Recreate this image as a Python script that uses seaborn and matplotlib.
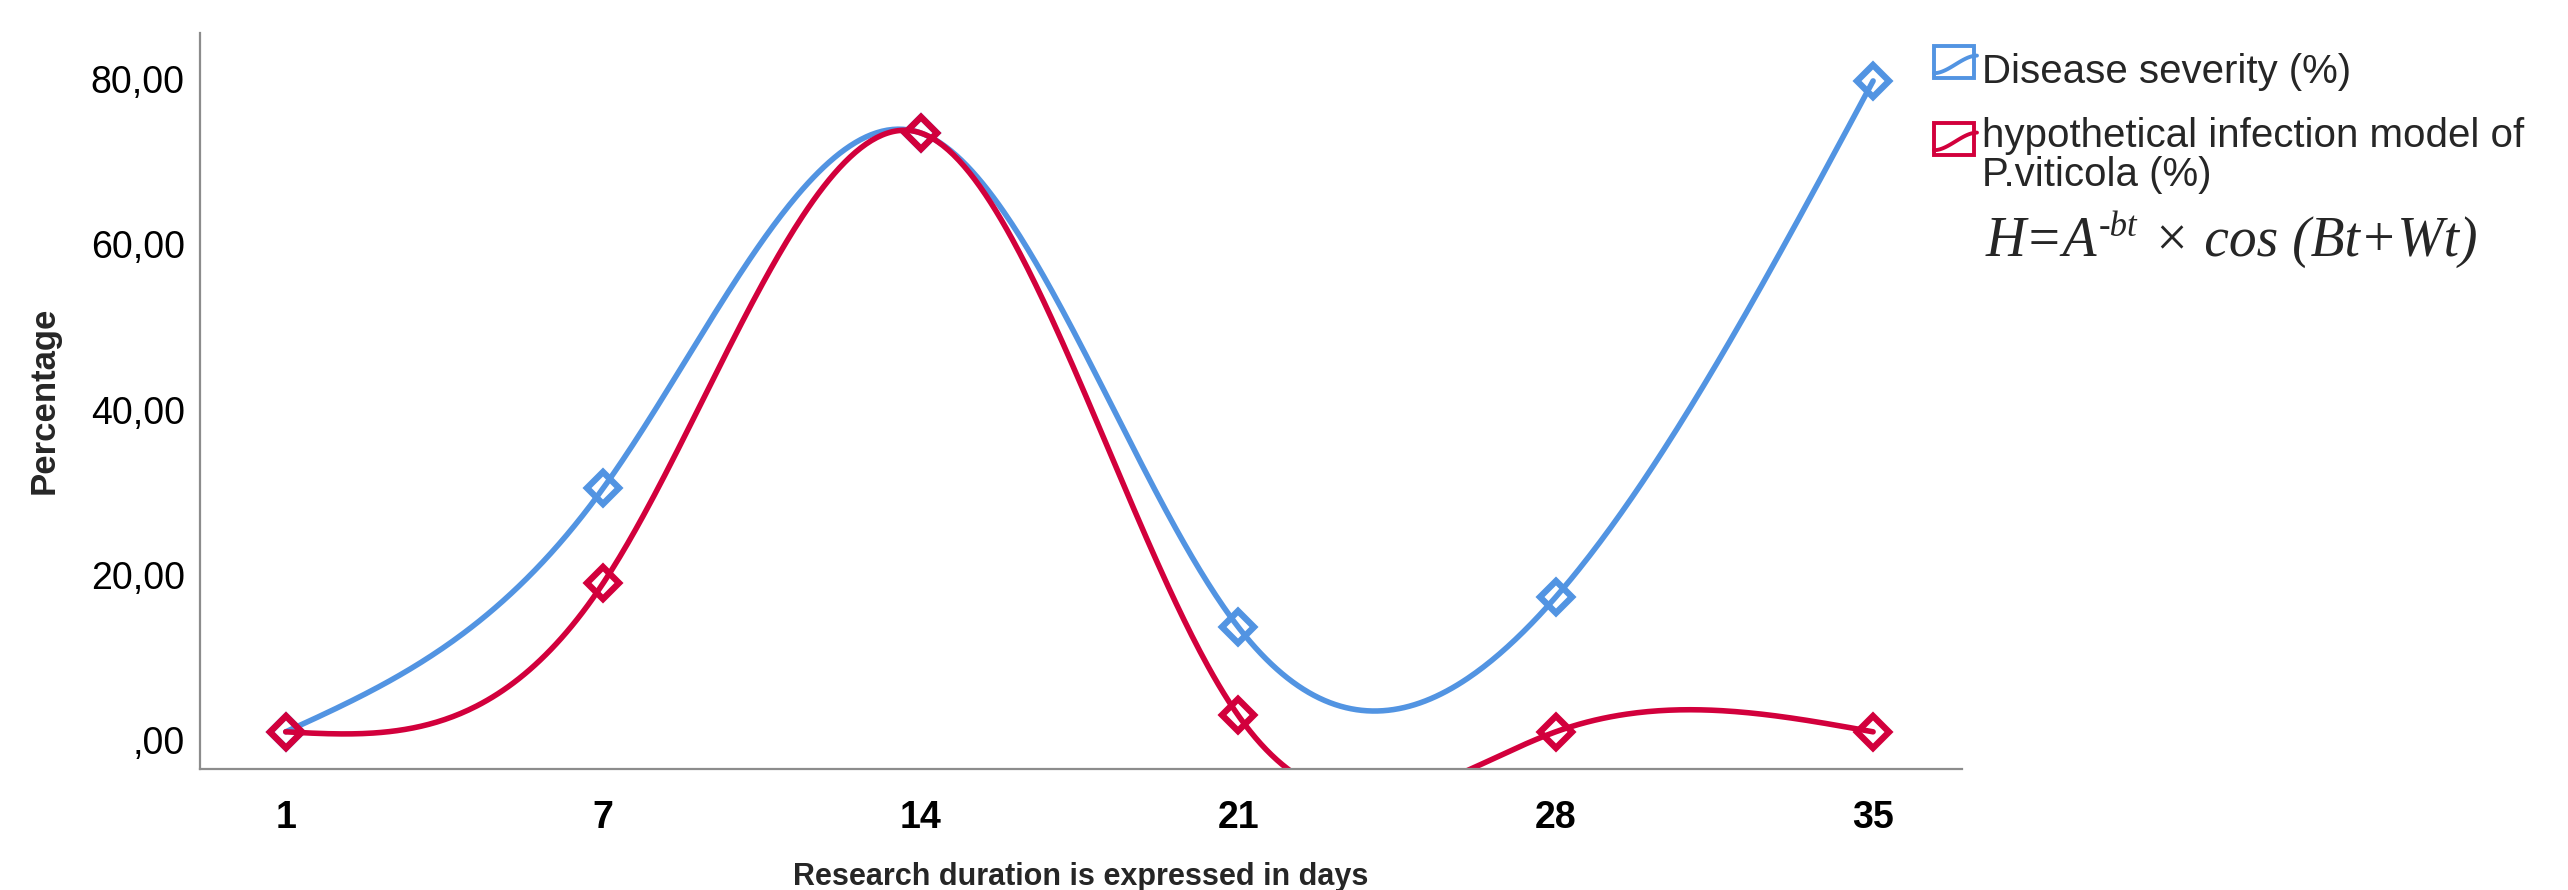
import numpy as np
import pandas as pd
import matplotlib
matplotlib.use("Agg")
import matplotlib.pyplot as plt
import seaborn as sns
from matplotlib.patches import Rectangle
from matplotlib.lines import Line2D

# ---- data ----
days = ["1", "7", "14", "21", "28", "35"]
disease_severity = [1.0, 30.5, 73.5, 13.7, 17.3, 79.8]
infection_model = [1.0, 19.0, 73.5, 3.0, 1.0, 1.0]
series_names = ["Disease severity (%)", "hypothetical infection model of\nP.viticola (%)"]
y_ticks = [0, 20, 40, 60, 80]
y_tick_labels = [",00", "20,00", "40,00", "60,00", "80,00"]

BLUE = "#5294E2"
RED = "#D2003C"

sns.set_theme(style="white")
plt.rcParams["font.family"] = ["Liberation Sans", "DejaVu Sans"]

W, H = 2568, 890


def natural_spline(x, y, xs):
    x = np.asarray(x, float)
    y = np.asarray(y, float)
    n = len(x)
    h = np.diff(x)
    A = np.zeros((n, n))
    b = np.zeros(n)
    A[0, 0] = 1
    A[-1, -1] = 1
    for i in range(1, n - 1):
        A[i, i - 1] = h[i - 1]
        A[i, i] = 2 * (h[i - 1] + h[i])
        A[i, i + 1] = h[i]
        b[i] = 6 * ((y[i + 1] - y[i]) / h[i] - (y[i] - y[i - 1]) / h[i - 1])
    M = np.linalg.solve(A, b)
    j = np.clip(np.searchsorted(x, xs) - 1, 0, n - 2)
    hj = h[j]
    a = x[j + 1] - xs
    c = xs - x[j]
    return (M[j] * a ** 3 / (6 * hj) + M[j + 1] * c ** 3 / (6 * hj)
            + (y[j] / hj - M[j] * hj / 6) * a + (y[j + 1] / hj - M[j + 1] * hj / 6) * c)


fig = plt.figure(figsize=(W / 100, H / 100), dpi=100)
ax = fig.add_axes([200 / W, 1 - 769 / H, (1962 - 200) / W, (769 - 33) / H])

idx = np.arange(len(days))
xs = np.linspace(0, len(days) - 1, 600)
for vals, col in [(disease_severity, BLUE), (infection_model, RED)]:
    curve = pd.DataFrame({"x": xs, "y": natural_spline(idx, vals, xs)})
    sns.lineplot(data=curve, x="x", y="y", color=col, lw=4.0, ax=ax)
    ax.plot(idx, vals, linestyle="none", marker="D", markersize=16,
            markerfacecolor="none", markeredgecolor=col, markeredgewidth=4.6)

ax.set_xlim(-0.27, 5.28)
ax.set_ylim(-3.5, 85.6)
ax.set_xticks(idx)
ax.set_xticklabels(days, fontsize=27, fontweight="bold")
ax.set_yticks(y_ticks)
ax.set_yticklabels(y_tick_labels, fontsize=27)
ax.tick_params(axis="x", length=0, pad=22, colors="black")
ax.tick_params(axis="y", length=0, pad=11, colors="black")
ax.set_xlabel("")
ax.set_ylabel("")
for s in ["top", "right"]:
    ax.spines[s].set_visible(False)
for s in ["left", "bottom"]:
    ax.spines[s].set_color("#8C8C8C")
    ax.spines[s].set_linewidth(1.6)

fig.text(44 / W, 1 - 400 / H, "Percentage", rotation=90, fontsize=25,
         fontweight="bold", ha="center", va="center")
fig.text(1081 / W, 1 - 885 / H, "Research duration is expressed in days",
         fontsize=22, fontweight="bold", ha="center", va="baseline")


# ---- legend (SPSS style) ----
def legend_symbol(y_top, col):
    x0, x1 = 1934, 1974
    h = 32
    fig.add_artist(Rectangle((x0 / W, 1 - (y_top + h) / H), (x1 - x0) / W, h / H,
                             transform=fig.transFigure, fill=False, edgecolor=col, lw=2.8))
    t = np.linspace(0, 1, 30)
    lx = x0 + (x1 + 3 - x0) * t
    ly = y_top + h * 0.85 - h * 0.55 * (3 * t ** 2 - 2 * t ** 3)
    fig.add_artist(Line2D(lx / W, 1 - ly / H, transform=fig.transFigure,
                          color=col, lw=2.8))


legend_symbol(46, BLUE)
legend_symbol(123, RED)
fig.text(1982 / W, 1 - 72 / H, series_names[0], fontsize=29, ha="left", va="center")
lines = series_names[1].split("\n")
fig.text(1982 / W, 1 - 136 / H, lines[0], fontsize=29, ha="left", va="center")
fig.text(1982 / W, 1 - 175 / H, lines[1], fontsize=29, ha="left", va="center")

# ---- formula, built from text pieces ----
fig.canvas.draw()
renderer = fig.canvas.get_renderer()
serif = dict(family="Liberation Serif", style="italic")
base_y = 1 - 256 / H
x_px = 1986
t1 = fig.text(x_px / W, base_y, "H=A", fontsize=40, va="baseline", ha="left", **serif)
x_px += t1.get_window_extent(renderer).width + 1
t2 = fig.text(x_px / W, base_y + 20 / H, "-bt", fontsize=25, va="baseline", ha="left", **serif)
x_px += t2.get_window_extent(renderer).width + 2
t3 = fig.text(x_px / W, base_y, " \u00d7 cos (Bt+Wt)", fontsize=40, va="baseline", ha="left", **serif)

fig.savefig("out.png", dpi=100)
